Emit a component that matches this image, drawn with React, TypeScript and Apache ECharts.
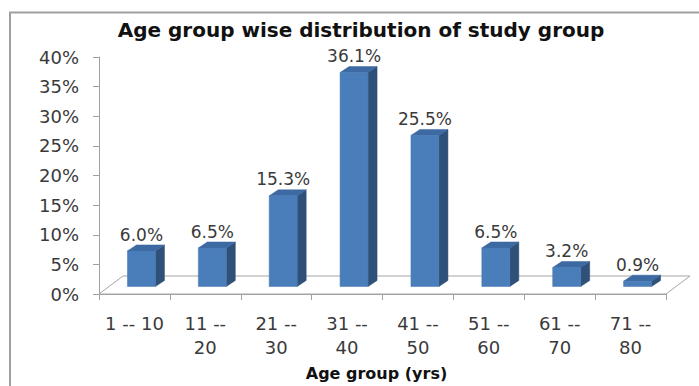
import React, { useEffect, useRef } from 'react';
import * as echarts from 'echarts';

const categories: string[] = ['1 -- 10', '11 --\n20', '21 --\n30', '31 --\n40', '41 --\n50', '51 --\n60', '61 --\n70', '71 --\n80'];
const values: number[] = [6.0, 6.5, 15.3, 36.1, 25.5, 6.5, 3.2, 0.9];
const yMin = 0;
const yMax = 40;
const yInterval = 5;
const titleText = 'Age group wise distribution of study group';
const xAxisName = 'Age group (yrs)';

// 3D look (styles)
const FLOOR_DX = 24;
const FLOOR_DY = -18;
const BAR_SHIFT_X = 7;
const BAR_SHIFT_Y = 7.5;
const BAR_DX = 9;
const BAR_DY = -6;
const BAR_W_RATIO = 0.395;
const FONT = '"DejaVu Sans", "Liberation Sans", Arial, sans-serif';

export default function App() {
  const ref = useRef<HTMLDivElement>(null);
  useEffect(() => {
    const chart = echarts.init(ref.current as HTMLDivElement, null, { renderer: 'svg' });
    const n = categories.length;
    const option: any = {
      animation: false,
      backgroundColor: '#ffffff',
      title: {
        text: titleText,
        left: 361,
        textAlign: 'center',
        top: 20,
        padding: 0,
        textStyle: { fontFamily: FONT, fontSize: 20, fontWeight: 'bold', color: '#111111' },
      },
      graphic: [
        {
          type: 'rect',
          shape: { x: 10, y: 12.5, width: 720, height: 420 },
          style: { fill: 'none', stroke: '#a0a0a0', lineWidth: 2 },
          silent: true,
        },
      ],
      grid: { left: 99, width: 567, top: 57, height: 242, containLabel: false },
      xAxis: {
        type: 'category',
        data: categories,
        boundaryGap: true,
        name: xAxisName,
        nameLocation: 'middle',
        nameGap: 71,
        nameTextStyle: { fontFamily: FONT, fontSize: 16, fontWeight: 'bold', color: '#111111', padding: [0, 12, 0, 0] },
        axisLine: { show: true, lineStyle: { color: '#a0a0a0', width: 1 } },
        axisTick: { show: true, length: 6, lineStyle: { color: '#a0a0a0' } },
        axisLabel: { interval: 0, margin: 17, fontFamily: FONT, fontSize: 18, lineHeight: 24, color: '#3a3a3a' },
        splitLine: { show: false },
      },
      yAxis: {
        type: 'value',
        min: yMin,
        max: yMax,
        interval: yInterval,
        axisLine: { show: true, lineStyle: { color: '#a0a0a0', width: 1 } },
        axisTick: { show: true, length: 6, lineStyle: { color: '#a0a0a0' } },
        axisLabel: { formatter: '{value}%', margin: 20, fontFamily: FONT, fontSize: 18, color: '#3a3a3a' },
        splitLine: { show: false },
      },
      series: [
        {
          type: 'custom',
          z: 1,
          silent: true,
          data: [[0, 0]],
          renderItem: (params: any, api: any) => {
            const first = api.coord([0, 0]);
            const last = api.coord([n - 1, 0]);
            const band = api.size([1, 0])[0];
            const x0 = first[0] - band / 2;
            const x1 = last[0] + band / 2;
            const y = first[1];
            return {
              type: 'polygon',
              shape: { points: [[x0, y], [x1, y], [x1 + FLOOR_DX, y + FLOOR_DY], [x0 + FLOOR_DX, y + FLOOR_DY]] },
              style: { fill: 'none', stroke: '#a6a6a6', lineWidth: 1 },
            };
          },
        },
        {
          type: 'custom',
          z: 3,
          data: values.map((v, i) => [i, v]),
          renderItem: (params: any, api: any) => {
            const idx = api.value(0);
            const val = api.value(1);
            const base = api.coord([idx, 0]);
            const top = api.coord([idx, val]);
            const band = api.size([1, 0])[0];
            const w = band * BAR_W_RATIO;
            const cx = base[0] + BAR_SHIFT_X;
            const by = base[1] - BAR_SHIFT_Y;
            const ty = top[1] - BAR_SHIFT_Y;
            const lx = cx - w / 2;
            const rx = cx + w / 2;
            return {
              type: 'group',
              children: [
                {
                  type: 'polygon',
                  shape: { points: [[rx, ty], [rx + BAR_DX, ty + BAR_DY], [rx + BAR_DX, by + BAR_DY], [rx, by]] },
                  style: { fill: '#2e5079', stroke: '#2a4a70', lineWidth: 0.5 },
                },
                {
                  type: 'polygon',
                  shape: { points: [[lx, ty], [rx, ty], [rx + BAR_DX, ty + BAR_DY], [lx + BAR_DX, ty + BAR_DY]] },
                  style: { fill: '#3d6aa3', stroke: '#3a659c', lineWidth: 0.5 },
                },
                {
                  type: 'rect',
                  shape: { x: lx, y: ty, width: w, height: by - ty },
                  style: { fill: '#4a7ebb', stroke: '#4676b0', lineWidth: 0.5 },
                },
                {
                  type: 'text',
                  x: cx,
                  y: ty - 16.4,
                  style: {
                    text: val.toFixed(1) + '%',
                    fontFamily: FONT,
                    fontSize: 17,
                    fill: '#3a3a3a',
                    align: 'center',
                    verticalAlign: 'middle',
                  },
                },
              ],
            };
          },
        },
      ],
    };
    chart.setOption(option);
    return () => chart.dispose();
  }, []);
  return (
    <div
      ref={ref}
      style={{ position: 'fixed', left: 0, top: 0, width: 699, height: 386, background: '#ffffff' }}
    />
  );
}
